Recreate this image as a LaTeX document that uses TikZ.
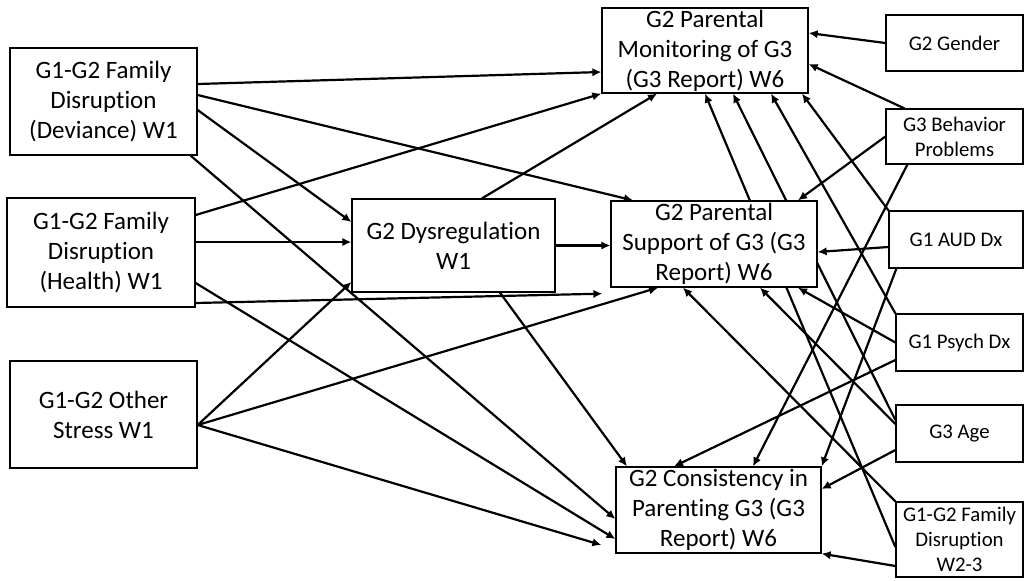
\documentclass[tikz,border=0pt]{standalone}
\usepackage{fontspec}
\setmainfont{Carlito}
\usepackage{tikz}
\usetikzlibrary{arrows.meta,backgrounds}

\tikzset{
  var/.style={draw, line width=0.65pt, fill=white, inner sep=0pt, align=center,
    font=\fontsize{12.5pt}{15pt}\selectfont},
  cov/.style={var, font=\fontsize{10.4pt}{12.5pt}\selectfont},
  link/.style={->, line width=1.1pt}
}
% no t-i ligature
\newcommand{\tsep}{t\kern0pt i}

\begin{document}
\begin{tikzpicture}[x=0.5pt,y=-0.5pt,>={Latex[length=4.5pt,width=4.2pt]}]
\useasboundingbox (0,0) rectangle (1024,580);
% predictors
\node[var, minimum width=93.5pt, minimum height=53.5pt] (dev) at (103.5,101.5) {G1-G2 Family\\Disrup\tsep on\\(Deviance) W1};
\node[var, minimum width=94pt, minimum height=54.5pt] (health) at (101,252.5) {G1-G2 Family\\Disrup\tsep on\\(Health) W1};
\node[var, minimum width=93.5pt, minimum height=53.5pt] (other) at (103.5,414.5) {G1-G2 Other\\Stress W1};
\node[var, minimum width=101.5pt, minimum height=46.5pt] (dysreg) at (453.5,245.5) {G2 Dysregula\tsep on\\W1};
% outcomes
\node[var, minimum width=103pt, minimum height=42.5pt] (monit) at (705,50.5) {G2 Parental\\Monitoring of G3\\(G3 Report) W6};
\node[var, minimum width=103pt, minimum height=43pt] (support) at (714,244) {G2 Parental\\Support of G3 (G3\\Report) W6};
\node[var, minimum width=102.5pt, minimum height=43pt] (consist) at (718.5,510) {G2 Consistency in\\Paren\tsep ng G3 (G3\\Report) W6};
% covariates
\node[cov, minimum width=68.5pt, minimum height=28pt] (gender) at (954.5,43) {G2 Gender};
\node[cov, minimum width=68.5pt, minimum height=27.5pt] (behav) at (954.5,136.5) {G3 Behavior\\Problems};
\node[cov, minimum width=67pt, minimum height=28.5pt] (aud) at (956,239.5) {G1 AUD Dx};
\node[cov, minimum width=63.5pt, minimum height=28.5pt] (psych) at (959.5,342.5) {G1 Psych Dx};
\node[cov, minimum width=63.5pt, minimum height=28.5pt] (age) at (959.5,433.5) {G3 Age};
\node[cov, minimum width=63.5pt, minimum height=37.5pt] (famdis) at (959.5,539.5) {G1-G2 Family\\Disrup\tsep on\\W2-3};

\begin{scope}[on background layer]
% from the left
\draw[link] ([yshift=8.75pt]dev.east) -- ([yshift=-10.75pt]monit.west);
\draw[link] ([yshift=3.25pt]dev.east) -- ([xshift=-40.5pt]support.north);
\draw[link] ([yshift=-4.25pt]dev.east) -- ([yshift=11.75pt]dysreg.west);
\draw[link] ([xshift=-3.5pt]dev.south east) -- ([yshift=-4.5pt]consist.west);
\draw[link] ([yshift=18.75pt]health.east) -- (monit.south west);
\draw[link] ([yshift=5.25pt]health.east) -- ([yshift=1.75pt]dysreg.west);
\draw[link] ([yshift=-15.25pt]health.east) -- ([yshift=-14.5pt]consist.west);
\draw[link] ([yshift=-25.25pt]health.east) -- ([xshift=-4pt,yshift=-3pt]support.south west);
\draw[link] ([yshift=-5.25pt]other.east) -- ([yshift=-18.25pt]dysreg.west);
\draw[link] ([yshift=-5.25pt]other.east) -- ([xshift=-28pt]support.south);
\draw[link] ([yshift=-5.25pt]other.east) -- ([xshift=-7pt,yshift=-17.5pt]consist.west);
\draw[link] (dysreg.east) -- (dysreg.east -| support.west);
\draw[link] ([xshift=14.25pt]dysreg.north) -- ([xshift=-24pt]monit.south);
\draw[link] ([xshift=23.25pt]dysreg.south) -- ([xshift=-45.75pt]consist.north);
% from the right
\draw[link] (gender.west) -- ([yshift=8.75pt]monit.east);
\draw[link] ([xshift=9.5pt]behav.north west) -- ([yshift=-6.75pt]monit.east);
\draw[link] (behav.west) -- ([xshift=42pt]support.north);
\draw[link] ([xshift=11pt]behav.south west) -- ([xshift=17.25pt]consist.north);
\draw[link] (aud.north west) -- ([xshift=48.5pt]monit.south);
\draw[link] ([yshift=-3.75pt]aud.west) -- ([yshift=-4pt]support.east);
\draw[link] ([xshift=4pt]aud.south west) -- (consist.north east);
\draw[link] (psych.north west) -- ([xshift=33pt]monit.south);
\draw[link] (psych.west) -- ([xshift=42pt]support.south);
\draw[link] ([yshift=-8.75pt]psych.west) -- ([xshift=-22.25pt]consist.north);
\draw[link] ([yshift=6.75pt]age.west) -- ([xshift=14pt]monit.south);
\draw[link] ([yshift=4.75pt]age.west) -- ([xshift=23pt]support.south);
\draw[link] ([yshift=-8.25pt]age.west) -- ([yshift=10.5pt]consist.east);
\draw[link] ([yshift=-3.75pt]famdis.west) -- (monit.south);
\draw[link] (famdis.north west) -- ([xshift=-15.5pt]support.south);
\draw[link] ([yshift=-13.25pt]famdis.west) -- (consist.south east);
\end{scope}
\end{tikzpicture}
\end{document}
